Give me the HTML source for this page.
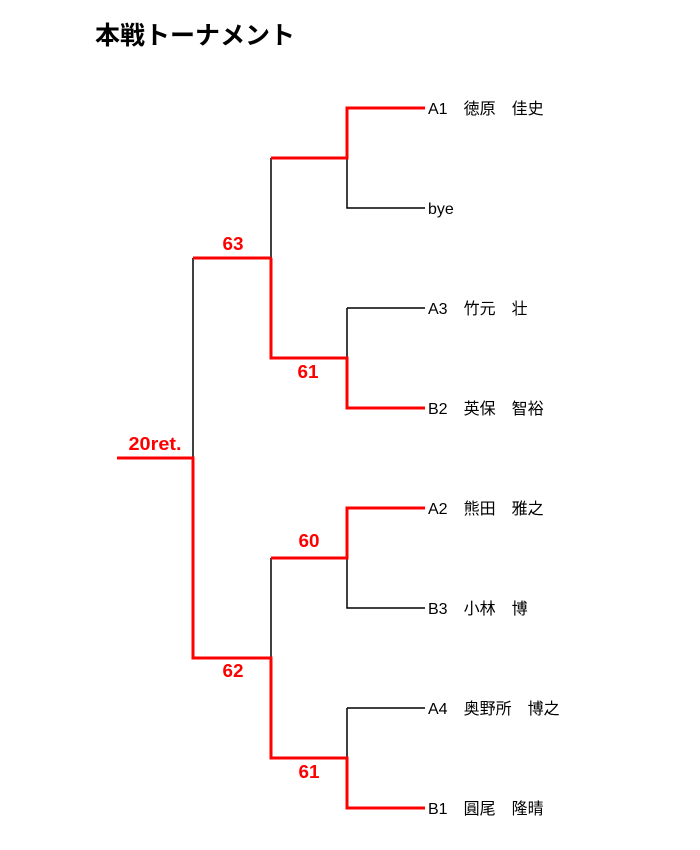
<!DOCTYPE html>
<html><head><meta charset="utf-8"><style>
body{margin:0;width:700px;height:850px;background:#fff;overflow:hidden}
svg{display:block}
.t{font-family:"Liberation Sans","Noto Sans CJK JP",sans-serif}
</style></head><body>
<svg width="700" height="850" xmlns="http://www.w3.org/2000/svg">
<text x="95" y="44" class="t" font-size="25" font-weight="bold" fill="#000">本戦トーナメント</text>
<g stroke="#000" stroke-width="1.5" fill="none">
<path d="M347 158V208H425"/>
<path d="M271 158V258"/>
<path d="M347 308V358"/><path d="M347 308H425"/>
<path d="M193 258V458"/>
<path d="M347 558V608H425"/>
<path d="M271 558V658"/>
<path d="M347 708V758"/><path d="M347 708H425"/>
</g>
<g stroke="#f00" stroke-width="3" fill="none">
<path d="M425 108H347V158H271"/>
<path d="M271 258V358H347V408H425"/>
<path d="M193 258H271"/>
<path d="M117 458H193V658H271V758H347V808H425"/>
<path d="M425 508H347V558H271"/>
</g>
<g class="t" font-size="18" font-weight="bold" fill="#f00" text-anchor="middle">
<text x="233" y="250" textLength="21" lengthAdjust="spacingAndGlyphs">63</text>
<text x="308" y="378" textLength="21" lengthAdjust="spacingAndGlyphs">61</text>
<text x="155" y="450" textLength="53" lengthAdjust="spacingAndGlyphs">20ret.</text>
<text x="309" y="547" textLength="21" lengthAdjust="spacingAndGlyphs">60</text>
<text x="233" y="677" textLength="21" lengthAdjust="spacingAndGlyphs">62</text>
<text x="309" y="778" textLength="21" lengthAdjust="spacingAndGlyphs">61</text>
</g>
<g class="t" font-size="16" fill="#000">
<text x="428" y="114">A1　徳原　佳史</text>
<text x="428" y="214">bye</text>
<text x="428" y="314">A3　竹元　壮</text>
<text x="428" y="414">B2　英保　智裕</text>
<text x="428" y="514">A2　熊田　雅之</text>
<text x="428" y="614">B3　小林　博</text>
<text x="428" y="714">A4　奥野所　博之</text>
<text x="428" y="814">B1　圓尾　隆晴</text>
</g>
</svg>
</body></html>
